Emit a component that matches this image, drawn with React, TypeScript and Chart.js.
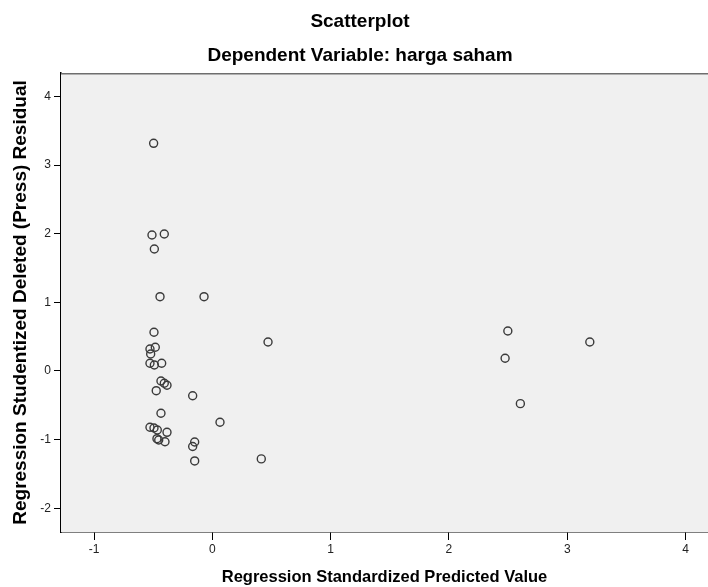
import React, { useEffect, useRef } from "react";
import { Chart, registerables } from "chart.js";

Chart.register(...registerables);

const chartTitle = "Scatterplot";
const chartSubtitle = "Dependent Variable: harga saham";
const xAxisTitle = "Regression Standardized Predicted Value";
const yAxisTitle = "Regression Studentized Deleted (Press) Residual";

const xTicks = [-1, 0, 1, 2, 3, 4];
const yTicks = [-2, -1, 0, 1, 2, 3, 4];

const predictedValues = [
  -0.496, -0.51, -0.406, -0.49,
  -0.442, -0.07, -0.493, -0.482, -0.527, -0.521, -0.527, -0.49, -0.428,
  -0.434, -0.406, -0.383, -0.474, -0.166, -0.434, 0.065, -0.527, -0.493,
  -0.465, -0.383, -0.468, -0.453, -0.4, -0.149, -0.166, -0.149, 0.414, 0.471,
  2.498, 3.191, 2.475, 2.604,
];
const deletedResiduals = [
  3.316, 1.98, 1.995, 1.777,
  1.082, 1.082, 0.564, 0.345, 0.32, 0.248, 0.112, 0.087, 0.112,
  -0.146, -0.179, -0.208, -0.287, -0.36, -0.616, -0.747, -0.82, -0.83,
  -0.859, -0.893, -0.986, -1.005, -1.03, -1.034, -1.1, -1.31, -1.28, 0.422,
  0.582, 0.422, 0.185, -0.476,
];

const FONT = "'Liberation Sans', Arial, sans-serif";

const frameAndTitles = {
  id: "frameAndTitles",
  beforeDatasetsDraw(chart: any) {
    const { ctx, chartArea: a } = chart;
    ctx.save();
    ctx.fillStyle = "#f0f0f0";
    ctx.fillRect(a.left, a.top, a.right - a.left, a.bottom - a.top);
    ctx.strokeStyle = "#6e6e6e";
    ctx.lineWidth = 1.5;
    ctx.beginPath();
    ctx.moveTo(a.left, a.top + 0.75);
    ctx.lineTo(a.right, a.top + 0.75);
    ctx.stroke();
    ctx.restore();
  },
  afterDraw(chart: any) {
    const { ctx } = chart;
    ctx.save();
    ctx.fillStyle = "#000";
    ctx.textAlign = "center";
    ctx.textBaseline = "middle";
    ctx.font = `bold 19px ${FONT}`;
    ctx.fillText(chartTitle, 360, 22);
    ctx.fillText(chartSubtitle, 360, 56);
    ctx.restore();
  },
};

export default function App() {
  const ref = useRef<HTMLCanvasElement | null>(null);

  useEffect(() => {
    document.body.style.margin = "0";
    document.body.style.background = "#fff";
    const canvas = ref.current!;
    const points = predictedValues.map((x, i) => ({ x, y: deletedResiduals[i] }));
    const chart = new Chart(canvas, {
      type: "scatter",
      data: {
        datasets: [
          {
            data: points,
            pointRadius: 4,
            pointHoverRadius: 4,
            pointBorderWidth: 1.4,
            pointBorderColor: "#3a3a3a",
            pointBackgroundColor: "rgba(0,0,0,0)",
          },
        ],
      },
      options: {
        responsive: false,
        animation: false,
        layout: { autoPadding: false, padding: { top: 73, right: 0, left: 0, bottom: 0 } },
        plugins: {
          legend: { display: false },
          tooltip: { enabled: false },
          title: { display: false },
        },
        scales: {
          x: {
            type: "linear",
            min: -1.279,
            max: 4.19,
            afterBuildTicks: (s: any) => {
              s.ticks = xTicks.map((v) => ({ value: v }));
            },
            afterFit: (s: any) => {
              s.height = 55;
              s.paddingLeft = 0;
              s.paddingRight = 0;
            },
            grid: {
              display: true,
              drawOnChartArea: false,
              drawTicks: true,
              tickLength: 8,
              color: "#000",
            },
            border: { display: true, color: "#000", width: 1.5 },
            ticks: {
              color: "#222",
              padding: 2,
              font: { family: FONT, size: 12 },
              maxRotation: 0,
              autoSkip: false,
            },
            title: {
              display: true,
              text: xAxisTitle,
              color: "#000",
              font: { family: FONT, size: 16.5, weight: "bold" },
              padding: { top: 0, bottom: 0 },
            },
          },
          y: {
            type: "linear",
            min: -2.345,
            max: 4.34,
            afterBuildTicks: (s: any) => {
              s.ticks = yTicks.map((v) => ({ value: v }));
            },
            afterFit: (s: any) => {
              s.width = 61;
              s.paddingTop = 0;
              s.paddingBottom = 0;
            },
            grid: {
              display: true,
              drawOnChartArea: false,
              drawTicks: true,
              tickLength: 7,
              color: "#000",
            },
            border: { display: true, color: "#000", width: 1.5 },
            ticks: {
              color: "#222",
              padding: 3,
              font: { family: FONT, size: 12 },
              autoSkip: false,
            },
            title: {
              display: true,
              text: yAxisTitle,
              color: "#000",
              font: { family: FONT, size: 19, weight: "bold" },
              padding: { top: 9, bottom: 0 },
            },
          },
        },
      },
      plugins: [frameAndTitles],
    });
    return () => chart.destroy();
  }, []);

  return <canvas ref={ref} width={708} height={587} style={{ display: "block" }} />;
}
